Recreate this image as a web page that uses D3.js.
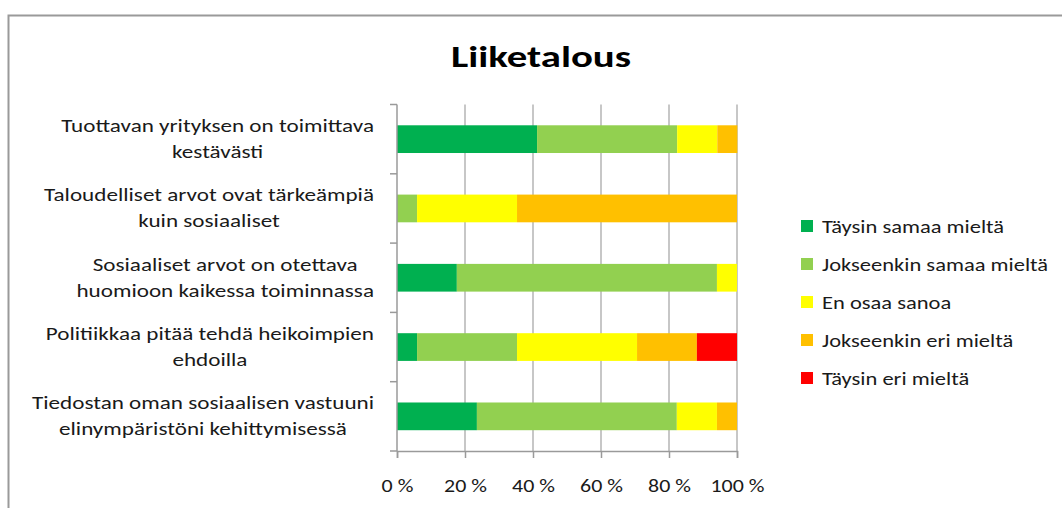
<!DOCTYPE html>
<html>
<head>
<meta charset="utf-8">
<script src="https://cdn.jsdelivr.net/npm/d3@7"></script>
<style>
  body { margin: 0; background: #fff; }
  svg text { font-family: Carlito, Lato, "Open Sans", sans-serif; fill: #1a1a1a; }
</style>
</head>
<body>
<div id="chart"></div>
<script>
var W = 1062, H = 508;

var categories = [
  ["Tuottavan yrityksen on toimittava", "kestävästi"],
  ["Taloudelliset arvot ovat tärkeämpiä", "kuin sosiaaliset"],
  ["Sosiaaliset arvot on otettava", "huomioon kaikessa toiminnassa"],
  ["Politiikkaa pitää tehdä heikoimpien", "ehdoilla"],
  ["Tiedostan oman sosiaalisen vastuuni", "elinympäristöni kehittymisessä"]
];
var seriesNames = ["Täysin samaa mieltä", "Jokseenkin samaa mieltä", "En osaa sanoa", "Jokseenkin eri mieltä", "Täysin eri mieltä"];
var seriesColors = ["#00b050", "#92d050", "#ffff00", "#ffc000", "#ff0000"];
// percent per category, in series order
var taysinSamaa    = [41.2,  0.0, 17.6,  5.9, 23.5];
var jokseenSamaa   = [41.2,  5.9, 76.5, 29.4, 58.8];
var enOsaa         = [11.8, 29.4,  5.9, 35.3, 11.8];
var jokseenEri     = [ 5.9, 64.7,  0.0, 17.6,  5.9];
var taysinEri      = [ 0.0,  0.0,  0.0, 11.8,  0.0];
var xTicks = [0, 20, 40, 60, 80, 100];

var rows = categories.map(function(c, i) {
  return { i: i, s0: taysinSamaa[i], s1: jokseenSamaa[i], s2: enOsaa[i], s3: jokseenEri[i], s4: taysinEri[i] };
});
var keys = ["s0", "s1", "s2", "s3", "s4"];

// the source picture is stretched sideways, so widen the text to match
function stretch(sel, s) {
  sel.each(function() {
    var w = this.getComputedTextLength();
    d3.select(this).attr("textLength", w * s).attr("lengthAdjust", "spacingAndGlyphs");
  });
}

var svg = d3.select("#chart").append("svg")
  .attr("width", W).attr("height", H);

// outer frame
svg.append("path")
  .attr("d", "M8.5," + H + " V15.5 H" + W)
  .attr("fill", "none").attr("stroke", "#9a9a9a").attr("stroke-width", 2);

svg.append("text")
  .attr("x", 541).attr("y", 67)
  .attr("text-anchor", "middle")
  .attr("font-size", "30px").attr("font-weight", "bold")
  .style("fill", "#000")
  .text("Liiketalous")
  .call(stretch, 1.36);

var x = d3.scaleLinear().domain([0, 100]).range([397, 737]);
var y = d3.scaleBand().domain(d3.range(categories.length)).range([104.5, 451]).paddingInner(0.6).paddingOuter(0.3);
var yOuter = d3.scaleBand().domain(d3.range(categories.length)).range([104.5, 451]);

// gridlines
svg.append("g").selectAll("line").data(xTicks.slice(1)).enter()
  .append("line")
  .attr("x1", function(d) { return x(d); }).attr("x2", function(d) { return x(d); })
  .attr("y1", 104.5).attr("y2", 451)
  .attr("stroke", "#b4b4b4").attr("stroke-width", 1.5);

// bars
var stack = d3.stack().keys(keys)(rows);
svg.append("g").selectAll("g").data(stack).enter()
  .append("g")
  .attr("fill", function(d, i) { return seriesColors[i]; })
  .selectAll("rect").data(function(d) { return d; }).enter()
  .append("rect")
  .attr("x", function(d) { return x(d[0]); })
  .attr("width", function(d) { return x(d[1]) - x(d[0]); })
  .attr("y", function(d) { return y(d.data.i); })
  .attr("height", y.bandwidth());

// x axis
var xAxis = svg.append("g")
  .attr("transform", "translate(0,451)")
  .call(d3.axisBottom(x).tickValues(xTicks).tickSize(7).tickFormat(function(d) { return d + " %"; }));
xAxis.select(".domain").attr("stroke", "#9a9a9a").attr("stroke-width", 1.5);
xAxis.selectAll(".tick line").attr("stroke", "#9a9a9a").attr("stroke-width", 1.5);
xAxis.selectAll(".tick text")
  .attr("font-size", "18px").attr("dy", null).attr("y", 41)
  .style("fill", "#1a1a1a")
  .attr("font-family", null)
  .call(stretch, 1.22);

// y axis
var yAxisG = svg.append("g");
yAxisG.append("line")
  .attr("x1", 397).attr("x2", 397).attr("y1", 104.5).attr("y2", 451)
  .attr("stroke", "#9a9a9a").attr("stroke-width", 1.5);
yAxisG.selectAll("line.tk").data(d3.range(categories.length + 1)).enter()
  .append("line").attr("class", "tk")
  .attr("x1", 390).attr("x2", 397)
  .attr("y1", function(d) { return 104.5 + d * yOuter.step(); })
  .attr("y2", function(d) { return 104.5 + d * yOuter.step(); })
  .attr("stroke", "#9a9a9a").attr("stroke-width", 1.5);

// category labels: wrapped block, right edge at 374, lines centred in block
var labelRight = 374, lineH = 26, sLab = 1.25;
categories.forEach(function(lines, i) {
  var g = svg.append("g");
  var cy = yOuter(i) + yOuter.bandwidth() / 2;
  var texts = lines.map(function(t, j) {
    return g.append("text")
      .attr("y", cy + (j - (lines.length - 1) / 2) * lineH + 6)
      .attr("font-size", "18.5px")
      .attr("text-anchor", "middle")
      .text(t);
  });
  var maxW = d3.max(texts, function(t) { return t.node().getComputedTextLength(); }) * sLab;
  texts.forEach(function(t) { t.attr("x", labelRight - maxW / 2).call(stretch, sLab); });
});

// legend
var legend = svg.append("g").selectAll("g").data(seriesNames).enter()
  .append("g")
  .attr("transform", function(d, i) { return "translate(801," + (226 + i * 38) + ")"; });
legend.append("rect")
  .attr("x", 0).attr("y", -6).attr("width", 12).attr("height", 12)
  .attr("fill", function(d, i) { return seriesColors[i]; });
legend.append("text")
  .attr("x", 21).attr("y", 6.5)
  .attr("font-size", "18px")
  .text(function(d) { return d; })
  .call(stretch, 1.25);
</script>
</body>
</html>
